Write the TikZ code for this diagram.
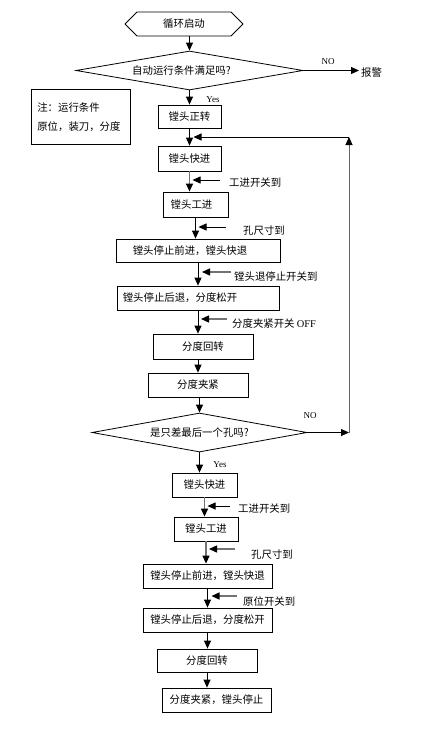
\documentclass[tikz,border=0pt]{standalone}
\usepackage{fontspec}
\setmainfont{Noto Sans CJK SC}
\newfontfamily\latinf{Liberation Serif}
\usetikzlibrary{arrows.meta,shapes.geometric,shapes.symbols,calc}
\begin{document}
\begin{tikzpicture}[x=1pt,y=-1pt,
  font=\fontsize{10.4}{12}\selectfont,
  box/.style={draw, line width=0.8pt, rectangle, inner sep=0pt},
  dia/.style={draw, line width=0.8pt, diamond, aspect=6, inner sep=0pt},
  arr/.style={line width=0.8pt, -{Triangle[length=8pt,width=7pt]}},
  garr/.style={line width=1.4pt, draw=black!55, -{Triangle[length=8pt,width=7pt,color=black]}},
  lbl/.style={anchor=west, inner sep=0pt},
  en/.style={font=\latinf\fontsize{9}{10}\selectfont, inner sep=0pt}
]
\useasboundingbox (0,0) rectangle (435,742);
\fill[white] (0,0) rectangle (435,742);

% start
\node[signal, signal to=west and east, signal pointer angle=90, draw, line width=0.8pt,
      minimum width=118, minimum height=24, inner sep=0pt] (start) at (184,24) {循环启动};

% decision 1
\node[dia, minimum width=227, minimum height=39] (d1) at (189.5,70.5) {自动运行条件满足吗?\hspace*{16pt}};
\node[inner sep=2pt, anchor=west] (alarm) at (359,73) {报警};
\node[en] (no1) at (328,62) {NO};
\node[en] (yes1) at (213,100) {Yes};

% note
\node[box, anchor=north west, minimum width=99, minimum height=55, align=left] (note) at (31,89)
  {注：运行条件\\[7pt]原位，装刀，分度\hspace*{4pt}};

% first cycle
\node[box, minimum width=63, minimum height=23] (b1) at (189.5,116.5) {镗头正转};
\node[box, minimum width=63, minimum height=25] (b2) at (189.5,158.5) {镗头快进};
\node[box, minimum width=65, minimum height=25] (b3) at (195.5,204.5) {镗头工进\hspace*{8pt}};
\node[box, minimum width=164, minimum height=23] (b4) at (198,250.5) {镗头停止前进，镗头快退\hspace*{16pt}};
\node[box, minimum width=162, minimum height=24] (b5) at (198,298) {镗头停止后退，分度松开\hspace*{36pt}};
\node[box, minimum width=100, minimum height=25] (b6) at (203,346.5) {分度回转};
\node[box, minimum width=100, minimum height=24] (b7) at (198,385) {分度夹紧};

% decision 2
\node[dia, minimum width=215, minimum height=39] (d2) at (199.5,432.5) {是只差最后一个孔吗?};
\node[en] (no2) at (310,416) {NO};
\node[en] (yes2) at (220,465) {Yes};

% last cycle
\node[box, minimum width=65, minimum height=24] (b8) at (204.5,485) {镗头快进};
\node[box, minimum width=64, minimum height=24] (b9) at (206,529) {镗头工进};
\node[box, minimum width=129, minimum height=24] (b10) at (207.5,576) {镗头停止前进，镗头快退};
\node[box, minimum width=129, minimum height=24] (b11) at (207.5,620) {镗头停止后退，分度松开};
\node[box, minimum width=100, minimum height=23] (b12) at (207,660.5) {分度回转};
\node[box, minimum width=109, minimum height=24] (b13) at (216.5,700) {分度夹紧，镗头停止};

% main connectors
\draw[arr] (d1.north |- start.south) -- (d1.north);
\draw[arr] (d1.east) -- (d1.east -| alarm.west);
\draw[arr] (d1.south) -- (d1.south |- b1.north);
\draw[arr] (b1.south) -- (b1.south |- b2.north);
\draw[garr] (b2.south) -- (b2.south |- b3.north);
\draw[arr] (b3.south) -- (b3.south |- b4.north);
\draw[arr] (b4.south) -- (b4.south |- b5.north);
\draw[arr] (b5.south) -- (b5.south |- b6.north);
\draw[arr] (b7.north |- b6.south) -- (b7.north);
\draw[arr] (d2.north |- b7.south) -- (d2.north);
\draw[arr] (d2.south) -- (d2.south |- b8.north);
\draw[garr] (b8.south) -- (b8.south |- b9.north);
\draw[garr] (b9.south) -- (b9.south |- b10.north);
\draw[arr] (b10.south) -- (b10.south |- b11.north);
\draw[arr] (b11.south) -- (b11.south |- b12.north);
\draw[arr] (b12.south) -- (b12.south |- b13.north);

% loop back
\coordinate (lp) at (349,137);
\coordinate (lq) at (d2.east -| lp);
\draw[arr] (d2.east) -- (lq);
\draw[line width=0.9pt, draw=black!60, -{Triangle[length=8pt,width=7pt,color=black]}] (lq) -- (lp);
\draw[arr] (lp) -- ($(lp -| b1.south)+(4,0)$);

% side signals
\coordinate (c1) at (220,180);
\coordinate (c2) at (226,227);
\coordinate (c3) at (231,272);
\coordinate (c4) at (227,319);
\coordinate (c5) at (230,506);
\coordinate (c6) at (235,549);
\coordinate (c7) at (237,596);
\draw[arr] (c1) -- ($(c1 -| b2.south)+(3,0)$);
\draw[arr] (c2) -- ($(c2 -| b3.south)+(3,0)$);
\draw[garr] (c3) -- ($(c3 -| b4.south)+(4,0)$);
\draw[garr] (c4) -- ($(c4 -| b5.south)+(3,0)$);
\draw[arr] (c5) -- ($(c5 -| b8.south)+(3,0)$);
\draw[garr] (c6) -- ($(c6 -| b9.south)+(3,0)$);
\draw[garr] (c7) -- ($(c7 -| b10.south)+(4,0)$);

\node[lbl] (t1) at (229,183) {工进开关到};
\node[lbl] (t2) at (243,231) {孔尺寸到};
\node[lbl] (t3) at (234,277) {镗头退停止开关到};
\node[lbl] (t4) at (232,324) {分度夹紧开关 {\latinf OFF}};
\node[lbl] (t5) at (238,509) {工进开关到};
\node[lbl] (t6) at (251,555) {孔尺寸到};
\node[lbl] (t7) at (243,602) {原位开关到};
\end{tikzpicture}
\end{document}
